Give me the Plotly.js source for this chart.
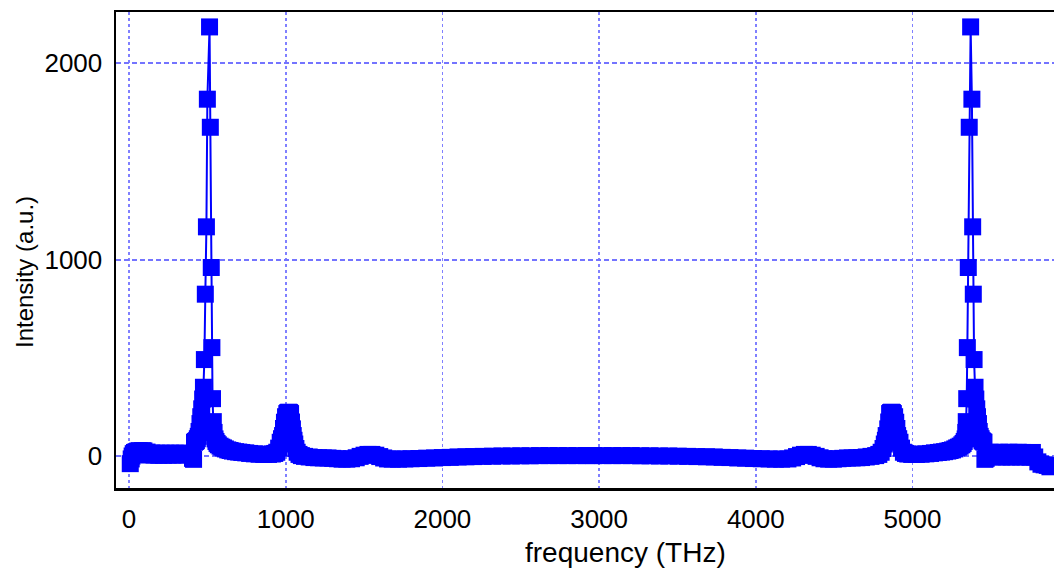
<!DOCTYPE html>
<html><head><meta charset="utf-8">
<script src="https://cdn.plot.ly/plotly-3.0.1.min.js"></script>
<style>html,body{margin:0;padding:0;background:#fff;overflow:hidden}#chart{width:1054px;height:570px}</style>
</head><body><div id="chart"></div>
<script>
// frequency (THz)
const frequency = [
 8,14,20,27,35,45,55,65,75,85,95,105,115,130,145,160,175,190,205,220,235,250,265,280,295,310,325,340,355,370,385,398,
 405,412,418,424,430,436,442,447,453,458,464,470,475,481,487,494,500,514,519,525,529,533,538,543,549,555,562,570,581,592,603,615,630,645,660,680,700,720,745,770,800,830,860,890,915,930,
 943,955,965,973,980,986,992,999,1007,1013,1019,1025,1031,1037,1043,1048,1053,1058,1065,1073,1085,1100,1120,1150,1180,1210,1240,1270,1300,1330,1360,1390,1420,1450,1475,1500,1525,1550,1575,1600,1625,1650,1680,1720,1760,1800,1850,1900,1950,2000,2050,2100,2150,2200,2260,2320,2380,2440,2500,2560,2620,2680,2740,2800,2860,2920,
 2965,3025,3085,3145,3205,3265,3325,3385,3445,3505,3565,3625,3685,3735,3785,3835,3885,3935,3985,4035,4085,4125,4165,4205,4235,4260,4285,4310,4335,4360,4385,4410,4435,4465,4495,4525,4555,4585,4615,4645,4675,4705,4735,4765,4785,
 4800,4812,4820,4827,4832,4842,4848,4854,4860,4866,4872,4878,4886,4893,4900,4905,4912,4920,4930,4942,4955,4970,4995,5025,5055,5085,5115,5140,5165,5185,5205,5225,5240,5255,5270,5282,5293,5304,5315,5323,5330,5336,5340,5343,5346,5350,5356,5362,5371,5379,5384,5388,5393,5399,5404,5410,5415,5421,5426,5432,5438,5444,5450,5456,5462,5470,
 5480,5495,5510,5525,5540,5555,5570,5585,5600,5615,5630,5645,5660,5675,5690,5705,5720,5735,5750,5765,5780,5800,5820,5840,5860,5877
];
// intensity (a.u.)
const intensity = [
 -39,-15,0,12,18,22,25,27,10,27,26,8,20,5,15,5,14,4,14,4,14,5,14,5,14,5,14,6,14,6,13,8,
 -12,-17,70,74,78,88,100,125,165,200,240,290,350,491,824,1167,1817,2185,1674,960,552,292,175,120,87,74,64,57,50,45,41,36,31,28,25,22,20,18,16,13,11,9,8,8,10,13,
 19,40,70,88,104,140,172,200,216,221,223,221,216,173,138,104,80,61,38,19,8,2,-2,-5,-8,-9,-10,-10,-12,-14,-16,-16,-14,-9,-2,4,8,8,4,-3,-10,-15,-16,-16,-15,-14,-13,-11,-10,-8,-7,-5,-4,-3,-2,-1,0,0,1,1,2,2,2,2,2,2,
 2,2,2,2,2,1,1,0,0,-1,-2,-3,-4,-5,-7,-8,-10,-11,-13,-14,-15,-16,-16,-15,-10,-3,4,8,8,4,-2,-9,-14,-16,-16,-14,-12,-10,-10,-9,-8,-5,-2,2,8,
 19,38,61,80,104,138,173,216,221,223,221,216,200,172,140,104,88,70,40,19,13,10,8,8,9,11,13,16,18,20,22,25,28,31,36,41,45,50,57,64,74,87,120,175,292,552,960,1674,2185,1817,1167,824,491,350,290,240,200,165,125,100,88,78,74,70,-17,-12,
 8,19,-4,18,-4,19,-5,18,-4,19,-5,18,-4,19,-5,18,-4,17,-6,18,-5,-30,-42,-45,-48,-55
];
const xTickVals = [0,1000,2000,3000,4000,5000];
const yTickVals = [0,1000,2000];
const xTitle = 'frequency (THz)';
const yTitle = 'Intensity (a.u.)';

const trace = {
  x: frequency, y: intensity, type: 'scatter', mode: 'lines+markers',
  line: {color: '#0000ff', width: 2},
  marker: {symbol: 'square', size: 17, color: '#0000ff', line: {width: 0}},
  hoverinfo: 'skip'
};
const layout = {
  width: 1054, height: 570,
  margin: {l: 116, r: 0, t: 12, b: 82},
  paper_bgcolor: '#ffffff', plot_bgcolor: '#ffffff', showlegend: false,
  font: {family: 'Liberation Sans, Arial, sans-serif', color: '#000'},
  xaxis: {
    range: [-83, 5903], tickvals: xTickVals, ticktext: xTickVals.map(String),
    ticks: 'outside', ticklen: 6, tickcolor: 'rgba(0,0,0,0)', tickfont: {size: 26, color: '#000'},
    showgrid: true, gridcolor: '#8080ff', griddash: '3px,3px', gridwidth: 1.6,
    zeroline: false, showline: true, linecolor: '#000', linewidth: 2.5, mirror: true
  },
  yaxis: {
    range: [-163, 2261], tickvals: yTickVals, ticktext: yTickVals.map(String),
    ticks: 'outside', ticklen: 6, tickcolor: 'rgba(0,0,0,0)', tickfont: {size: 26, color: '#000'},
    showgrid: true, gridcolor: '#7474ff', griddash: '5px,3px', gridwidth: 2,
    zeroline: false, showline: true, linecolor: '#000', linewidth: 2.5, mirror: false
  },
  annotations: [
    {text: xTitle, xref: 'paper', yref: 'paper', x: 0.5437, y: -0.1345, xanchor: 'center', yanchor: 'middle',
     showarrow: false, font: {size: 28, color: '#000'}},
    {text: yTitle, xref: 'paper', yref: 'paper', x: -0.0970, y: 0.4538, xanchor: 'center', yanchor: 'middle',
     textangle: -90, showarrow: false, font: {size: 24, color: '#000'}}
  ]
};
Plotly.newPlot('chart', [trace], layout, {staticPlot: true, displayModeBar: false});
</script>
</body></html>
